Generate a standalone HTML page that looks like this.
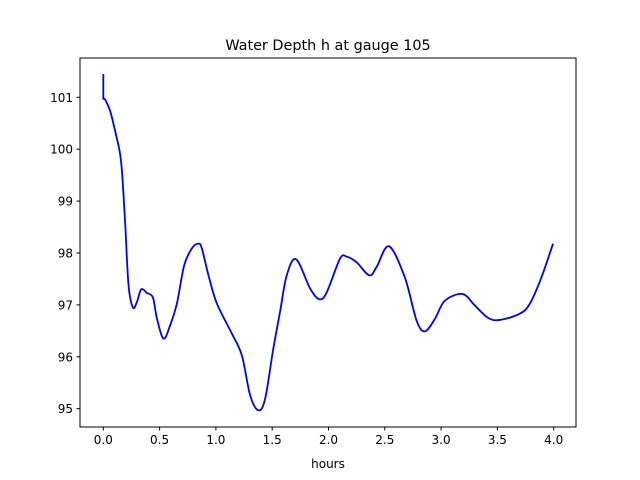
<!DOCTYPE html>
<html><head><meta charset="utf-8"><style>
body{margin:0;background:#fff;}
svg{display:block;font-family:"DejaVu Sans","Liberation Sans",sans-serif;}
</style></head><body>
<svg width="640" height="480" viewBox="0 0 640 480">
<rect width="640" height="480" fill="#fff"/>
<text x="328" y="50" font-size="14.4" text-anchor="middle">Water Depth h at gauge 105</text>
<g id="axes"></g>
<path id="line" fill="none" stroke="#0000ff" stroke-width="1.8" stroke-linejoin="round"></path>
<rect x="80" y="58" width="496" height="369" fill="none" stroke="#000" stroke-width="1"/>
<text x="328" y="468" font-size="12" text-anchor="middle">hours</text>
</svg>
<script>
const times=[0,0,0.018,0.062,0.106,0.145,0.166,0.195,0.224,0.263,0.299,0.337,0.388,0.441,0.476,0.535,0.594,0.654,0.718,0.787,0.845,0.875,0.934,1.008,1.141,1.230,1.304,1.377,1.437,1.510,1.570,1.629,1.712,1.836,1.918,1.984,2.102,2.161,2.250,2.362,2.427,2.537,2.678,2.782,2.856,2.945,3.033,3.190,3.299,3.417,3.521,3.698,3.787,3.891,3.994];
const depths=[101.45,100.97,100.95,100.73,100.34,99.96,99.57,98.54,97.38,96.95,97.06,97.30,97.23,97.14,96.74,96.35,96.61,97.03,97.76,98.09,98.18,98.09,97.57,97.03,96.45,96.03,95.26,94.97,95.19,96.16,96.87,97.57,97.88,97.32,97.11,97.24,97.89,97.93,97.82,97.57,97.73,98.13,97.53,96.70,96.49,96.73,97.08,97.21,96.99,96.75,96.71,96.83,97.02,97.53,98.18];
const xTicks=[0,0.5,1,1.5,2,2.5,3,3.5,4];
const xTickLabels=["0.0","0.5","1.0","1.5","2.0","2.5","3.0","3.5","4.0"];
const yTicks=[95,96,97,98,99,100,101];
const yTickLabels=["95","96","97","98","99","100","101"];
const X=t=>103.3+t*112.6;
const Y=h=>408.7-(h-95)*51.9;
const NS="http://www.w3.org/2000/svg";
const ax=document.getElementById('axes');
function mk(tag,attrs,parent){const e=document.createElementNS(NS,tag);for(const k in attrs)e.setAttribute(k,attrs[k]);parent.appendChild(e);return e;}
xTicks.forEach((t,i)=>{
 const l=mk('line',{x1:X(t),x2:X(t),y1:427,y2:430.5,stroke:'#000'},ax);
 
 
 const tx=mk('text',{x:X(t),y:444,'font-size':'12','text-anchor':'middle'},ax);
 tx.textContent=xTickLabels[i];
 
 
});
yTicks.forEach((v,i)=>{
 const l=mk('line',{x1:76.5,x2:80,y1:Y(v),y2:Y(v),stroke:'#000'},ax);
 
 
 const tx=mk('text',{x:73,y:Y(v)+4.5,'font-size':'12','text-anchor':'end'},ax);
 tx.textContent=yTickLabels[i];
 
 
});
const P=times.map((t,i)=>[X(t),Y(depths[i])]);
let d='M'+P[0][0]+','+P[0][1]+' L'+P[1][0]+','+P[1][1];
for(let i=1;i<P.length-1;i++){
 const p0=P[i-1<1?1:i-1],p1=P[i],p2=P[i+1],p3=P[Math.min(i+2,P.length-1)];
 const c1=[p1[0]+(p2[0]-p0[0])/6,p1[1]+(p2[1]-p0[1])/6];
 const c2=[p2[0]-(p3[0]-p1[0])/6,p2[1]-(p3[1]-p1[1])/6];
 d+=' C'+c1[0]+','+c1[1]+' '+c2[0]+','+c2[1]+' '+p2[0]+','+p2[1];
}
document.getElementById('line').setAttribute('d',d);
</script>
</body></html>
